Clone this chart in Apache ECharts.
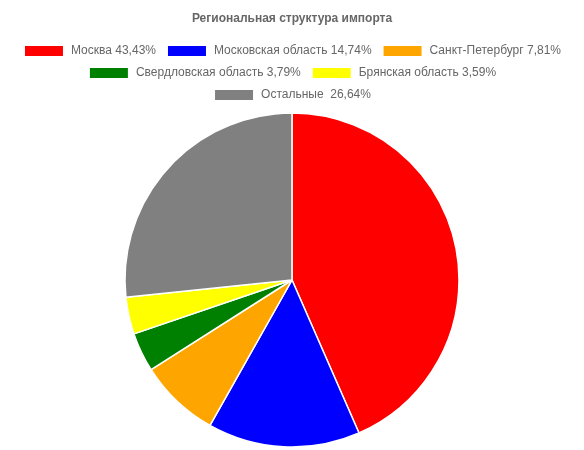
<!DOCTYPE html>
<html><head><meta charset="utf-8">
<script src="https://cdn.jsdelivr.net/npm/echarts@6/dist/echarts.min.js"></script>
<style>html,body{margin:0;padding:0;background:#fff}#c{width:584px;height:450px}</style>
</head><body><div id="c"></div>
<script>
const names = ['Москва 43,43%', 'Московская область 14,74%', 'Санкт-Петербург 7,81%', 'Свердловская область 3,79%', 'Брянская область 3,59%', 'Остальные  26,64%'];
const values = [43.43, 14.74, 7.81, 3.79, 3.59, 26.64];
const colors = ['#ff0000', '#0000ff', '#ffa500', '#008000', '#ffff00', '#808080'];
const legendRows = [[0, 1, 2], [3, 4], [5]];
const font = 'Liberation Sans, Arial, sans-serif';
const chart = echarts.init(document.getElementById('c'));
chart.setOption({
  animation: false,
  title: { text: 'Региональная структура импорта', left: 'center', top: 8,
    textStyle: { fontSize: 12, fontWeight: 'bold', color: '#666', fontFamily: font } },
  legend: legendRows.map((row, r) => ({
    top: 39 + r * 22, left: 'center', itemWidth: 40, itemHeight: 12, itemGap: 10,
    icon: 'rect', selectedMode: false,
    textStyle: { fontSize: 12, color: '#666', fontFamily: font, padding: [0, 0, 0, 2] },
    data: row.map(i => names[i])
  })),
  series: [{
    type: 'pie', center: [292, 280], radius: 167, startAngle: 90, clockwise: true,
    label: { show: false }, labelLine: { show: false },
    itemStyle: { borderColor: '#fff', borderWidth: 1.5 },
    emphasis: { disabled: true },
    data: names.map((n, i) => ({ name: n, value: values[i], itemStyle: { color: colors[i] } }))
  }]
});
</script></body></html>
